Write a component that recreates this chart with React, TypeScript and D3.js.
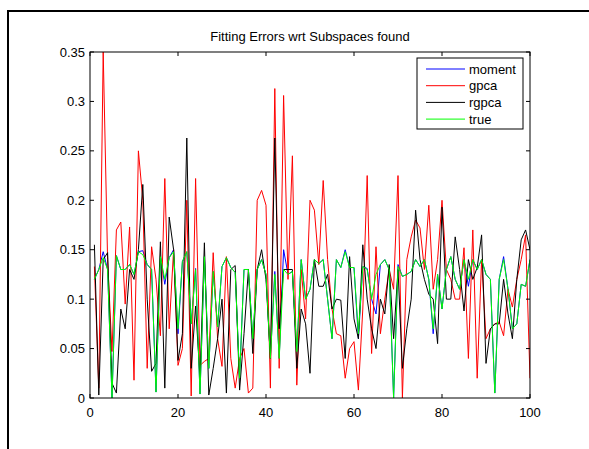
import React, { useEffect, useRef } from 'react';
import * as d3 from 'd3';

const title = 'Fitting Errors wrt Subspaces found';
const seriesNames = ['moment', 'gpca', 'rgpca', 'true'];
const seriesColors = ['#0000ff', '#ff0000', '#000000', '#00ff00'];
const xTicks = [0, 20, 40, 60, 80, 100];
const yTicks = [0, 0.05, 0.1, 0.15, 0.2, 0.25, 0.3, 0.35];
const yTickLabels = ['0', '0.05', '0.1', '0.15', '0.2', '0.25', '0.3', '0.35'];

// values at x = 1..100
const trueVals = [
  0.120, 0.130, 0.142, 0.130, 0.000, 0.144, 0.130, 0.130, 0.135, 0.125,
  0.148, 0.145, 0.135, 0.130, 0.006, 0.143, 0.120, 0.142, 0.148, 0.070,
  0.138, 0.148, 0.075, 0.130, 0.004, 0.143, 0.030, 0.128, 0.072, 0.133,
  0.142, 0.132, 0.127, 0.020, 0.130, 0.130, 0.060, 0.130, 0.140, 0.125,
  0.040, 0.125, 0.040, 0.130, 0.125, 0.128, 0.047, 0.140, 0.100, 0.110,
  0.140, 0.136, 0.140, 0.100, 0.060, 0.140, 0.132, 0.148, 0.132, 0.132,
  0.065, 0.133, 0.130, 0.100, 0.125, 0.135, 0.140, 0.130, 0.000, 0.133,
  0.123, 0.125, 0.128, 0.140, 0.133, 0.140, 0.120, 0.070, 0.125, 0.090,
  0.130, 0.143, 0.120, 0.110, 0.140, 0.120, 0.140, 0.130, 0.140, 0.125,
  0.120, 0.005, 0.120, 0.140, 0.110, 0.070, 0.075, 0.115, 0.113, 0.140,
];

const moment = [
  0.120, 0.130, 0.148, 0.130, 0.000, 0.144, 0.130, 0.130, 0.135, 0.125,
  0.148, 0.149, 0.135, 0.130, 0.006, 0.143, 0.115, 0.142, 0.150, 0.065,
  0.138, 0.148, 0.075, 0.131, 0.004, 0.143, 0.030, 0.128, 0.072, 0.133,
  0.142, 0.132, 0.127, 0.020, 0.130, 0.130, 0.060, 0.130, 0.140, 0.125,
  0.040, 0.128, 0.040, 0.150, 0.125, 0.128, 0.047, 0.140, 0.100, 0.110,
  0.140, 0.136, 0.140, 0.100, 0.060, 0.140, 0.132, 0.150, 0.132, 0.132,
  0.060, 0.133, 0.131, 0.100, 0.085, 0.135, 0.140, 0.130, 0.000, 0.135,
  0.123, 0.125, 0.128, 0.140, 0.133, 0.140, 0.120, 0.065, 0.125, 0.090,
  0.130, 0.143, 0.120, 0.110, 0.140, 0.113, 0.140, 0.130, 0.140, 0.125,
  0.120, 0.005, 0.120, 0.143, 0.110, 0.070, 0.075, 0.115, 0.113, 0.140,
];

const gpca = [
  0.133, 0.010, 0.350, 0.140, 0.047, 0.170, 0.178, 0.095, 0.173, 0.018,
  0.250, 0.200, 0.030, 0.153, 0.120, 0.063, 0.222, 0.070, 0.150, 0.033,
  0.050, 0.200, 0.002, 0.222, 0.033, 0.037, 0.040, 0.147, 0.060, 0.032,
  0.143, 0.040, 0.010, 0.040, 0.050, 0.005, 0.010, 0.200, 0.210, 0.195,
  0.010, 0.313, 0.030, 0.306, 0.120, 0.245, 0.013, 0.130, 0.080, 0.200,
  0.190, 0.135, 0.220, 0.140, 0.090, 0.065, 0.063, 0.020, 0.050, 0.057,
  0.008, 0.090, 0.225, 0.045, 0.153, 0.065, 0.100, 0.130, 0.110, 0.225,
  0.000, 0.140, 0.163, 0.180, 0.172, 0.130, 0.195, 0.110, 0.140, 0.200,
  0.130, 0.120, 0.100, 0.100, 0.152, 0.040, 0.170, 0.020, 0.140, 0.060,
  0.070, 0.075, 0.077, 0.063, 0.110, 0.092, 0.120, 0.140, 0.165, 0.020,
];

const rgpca = [
  0.155, 0.003, 0.140, 0.147, 0.015, 0.005, 0.090, 0.070, 0.130, 0.120,
  0.150, 0.216, 0.100, 0.027, 0.035, 0.158, 0.010, 0.183, 0.150, 0.038,
  0.065, 0.263, 0.030, 0.093, 0.020, 0.157, 0.003, 0.030, 0.060, 0.100,
  0.005, 0.130, 0.134, 0.008, 0.065, 0.130, 0.045, 0.130, 0.150, 0.120,
  0.040, 0.263, 0.070, 0.130, 0.130, 0.130, 0.030, 0.090, 0.075, 0.025,
  0.140, 0.113, 0.113, 0.125, 0.090, 0.100, 0.099, 0.040, 0.143, 0.080,
  0.060, 0.155, 0.100, 0.070, 0.050, 0.100, 0.085, 0.135, 0.060, 0.130,
  0.030, 0.070, 0.100, 0.190, 0.140, 0.120, 0.105, 0.100, 0.055, 0.193,
  0.100, 0.100, 0.163, 0.130, 0.088, 0.140, 0.120, 0.132, 0.165, 0.035,
  0.070, 0.075, 0.075, 0.120, 0.085, 0.060, 0.120, 0.160, 0.170, 0.150,
];

const W = 589;
const H = 449;
const font = '"Liberation Sans", Arial, Helvetica, sans-serif';
const fs = 13;

export default function App() {
  const ref = useRef<SVGSVGElement>(null);

  useEffect(() => {
    const svg = d3.select(ref.current);
    svg.selectAll('*').remove();

    const left = 90, right = 530, top = 52, bottom = 398;
    const x = d3.scaleLinear().domain([0, 100]).range([left, right]);
    const y = d3.scaleLinear().domain([0, 0.35]).range([bottom, top]);

    // figure frame (only top and left edges visible)
    svg.append('path')
      .attr('d', `M8,${H} L8,11 L${W},11`)
      .attr('fill', 'none')
      .attr('stroke', '#000')
      .attr('stroke-width', 2);

    svg.append('clipPath').attr('id', 'plotclip')
      .append('rect')
      .attr('x', left).attr('y', top)
      .attr('width', right - left).attr('height', bottom - top);

    const line = d3.line<number>()
      .x((d, i) => x(i + 1))
      .y((d) => y(d));

    // data lines, drawn in legend order (green ends on top)
    const allSeries = [moment, gpca, rgpca, trueVals];
    const plot = svg.append('g').attr('clip-path', 'url(#plotclip)');
    allSeries.forEach((s, i) => {
      plot.append('path')
        .datum(s)
        .attr('d', line)
        .attr('fill', 'none')
        .attr('stroke', seriesColors[i])
        .attr('stroke-width', 1);
    });

    // axes box
    svg.append('rect')
      .attr('x', left).attr('y', top)
      .attr('width', right - left).attr('height', bottom - top)
      .attr('fill', 'none')
      .attr('stroke', '#000')
      .attr('stroke-width', 1);

    const tl = 4;
    xTicks.forEach((t) => {
      svg.append('line')
        .attr('x1', x(t)).attr('x2', x(t))
        .attr('y1', bottom).attr('y2', bottom - tl)
        .attr('stroke', '#000');
      svg.append('line')
        .attr('x1', x(t)).attr('x2', x(t))
        .attr('y1', top).attr('y2', top + tl)
        .attr('stroke', '#000');
      svg.append('text')
        .attr('x', x(t)).attr('y', bottom + 19)
        .attr('text-anchor', 'middle')
        .attr('font-family', font)
        .attr('font-size', fs)
        .text(t);
    });

    yTicks.forEach((t, i) => {
      svg.append('line')
        .attr('x1', left).attr('x2', left + tl)
        .attr('y1', y(t)).attr('y2', y(t))
        .attr('stroke', '#000');
      svg.append('line')
        .attr('x1', right).attr('x2', right - tl)
        .attr('y1', y(t)).attr('y2', y(t))
        .attr('stroke', '#000');
      svg.append('text')
        .attr('x', left - 5).attr('y', y(t) + 4.5)
        .attr('text-anchor', 'end')
        .attr('font-family', font)
        .attr('font-size', fs)
        .text(yTickLabels[i]);
    });

    svg.append('text')
      .attr('x', (left + right) / 2).attr('y', 41)
      .attr('text-anchor', 'middle')
      .attr('font-family', font)
      .attr('font-size', fs)
      .text(title);

    // legend
    const lg = svg.append('g');
    lg.append('rect')
      .attr('x', 417).attr('y', 58)
      .attr('width', 106).attr('height', 71)
      .attr('fill', '#fff')
      .attr('stroke', '#000');
    seriesNames.forEach((name, i) => {
      const ly = 69 + i * 16.7;
      lg.append('line')
        .attr('x1', 426).attr('x2', 465)
        .attr('y1', ly).attr('y2', ly)
        .attr('stroke', seriesColors[i]);
      lg.append('text')
        .attr('x', 469).attr('y', ly + 4.5)
        .attr('font-family', font)
        .attr('font-size', fs)
        .text(name);
    });
  }, []);

  return (
    <svg
      ref={ref}
      width={W}
      height={H}
      style={{ position: 'absolute', left: 0, top: 0, background: '#fff' }}
    />
  );
}
